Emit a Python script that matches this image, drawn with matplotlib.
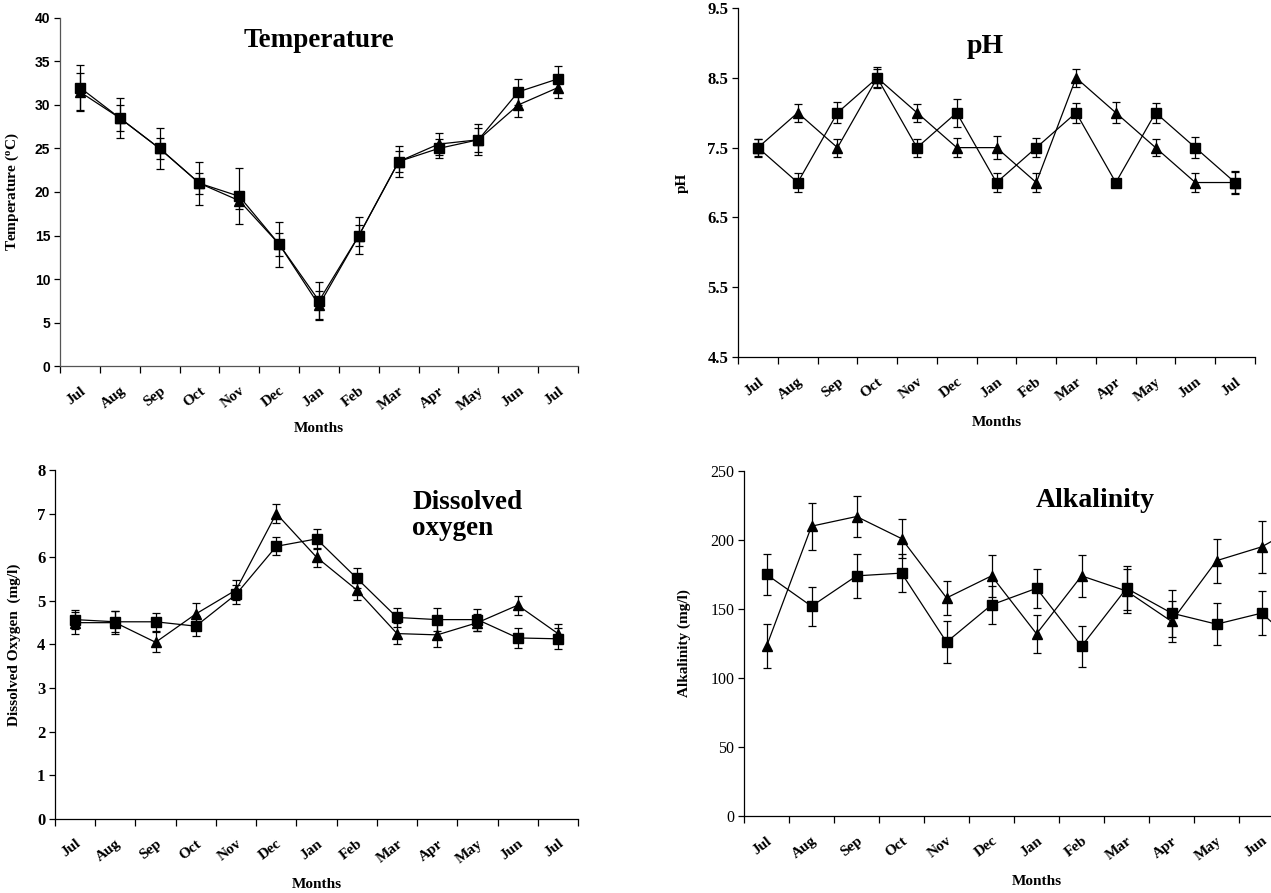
import matplotlib
matplotlib.use('Agg')
import matplotlib.pyplot as plt
import numpy as np

plt.rcParams['font.family'] = 'Liberation Serif'
plt.rcParams['mathtext.fontset'] = 'custom'
plt.rcParams['mathtext.rm'] = 'Liberation Serif:bold'
plt.rcParams['mathtext.it'] = 'Liberation Serif:bold'

months = ['Jul', 'Aug', 'Sep', 'Oct', 'Nov', 'Dec', 'Jan', 'Feb', 'Mar', 'Apr', 'May', 'Jun', 'Jul']

# Temperature
temp_sq = [32, 28.5, 25, 21, 19.5, 14, 7.5, 15, 23.5, 25, 26, 31.5, 33]
temp_sq_err = [2.6, 2.3, 2.4, 2.5, 3.2, 2.6, 2.2, 2.1, 1.8, 1.1, 1.8, 1.5, 1.5]
temp_tr = [31.5, 28.5, 25, 21, 19, 14, 7, 15, 23.5, 25.5, 26, 30, 32]
temp_tr_err = [2.2, 1.5, 1.2, 1.2, 1.0, 1.3, 1.6, 1.2, 1.2, 1.3, 1.4, 1.4, 1.2]

# pH
ph_sq = [7.5, 7.0, 8.0, 8.5, 7.5, 8.0, 7.0, 7.5, 8.0, 7.0, 8.0, 7.5, 7.0]
ph_sq_err = [0.13, 0.14, 0.15, 0.15, 0.13, 0.2, 0.13, 0.14, 0.14, 0.02, 0.14, 0.15, 0.15]
ph_tr = [7.5, 8.0, 7.5, 8.5, 8.0, 7.5, 7.5, 7.0, 8.5, 8.0, 7.5, 7.0, 7.0]
ph_tr_err = [0.12, 0.13, 0.13, 0.13, 0.13, 0.14, 0.17, 0.14, 0.13, 0.15, 0.12, 0.14, 0.17]

# Dissolved oxygen
do_sq = [4.57, 4.52, 4.52, 4.42, 5.15, 6.25, 6.42, 5.52, 4.62, 4.57, 4.57, 4.15, 4.13]
do_sq_err = [0.22, 0.24, 0.21, 0.23, 0.22, 0.21, 0.22, 0.23, 0.22, 0.27, 0.25, 0.23, 0.24]
do_tr = [4.5, 4.5, 4.05, 4.7, 5.25, 7.0, 6.0, 5.25, 4.25, 4.22, 4.5, 4.9, 4.25]
do_tr_err = [0.25, 0.27, 0.23, 0.25, 0.22, 0.22, 0.22, 0.23, 0.25, 0.28, 0.2, 0.22, 0.22]

# Alkalinity (last month runs past the right edge of the figure)
alk_sq = [175, 152, 174, 176, 126, 153, 165, 123, 165, 147, 139, 147, 118]
alk_sq_err = [15, 14, 16, 14, 15, 14, 14, 15, 16, 17, 15, 16, 15]
alk_tr = [123, 210, 217, 201, 158, 174, 132, 174, 163, 141, 185, 195, 213]
alk_tr_err = [16, 17, 15, 14, 12, 15, 14, 15, 16, 15, 16, 19, 17]

fig = plt.figure(figsize=(12.71, 8.93), dpi=100)


def draw(ax, sq, sq_err, tr, tr_err, ylim, yticks, ytick_font, ylabel, ylab_x,
         xlab_y, labels=months, spine='black'):
    x = np.arange(len(months))
    ax.errorbar(x, tr, yerr=tr_err, color='black', lw=0.9, marker='^', ms=7,
                elinewidth=0.9, capsize=2.6, capthick=0.9)
    ax.errorbar(x, sq, yerr=sq_err, color='black', lw=0.9, marker='s', ms=7,
                elinewidth=0.9, capsize=2.6, capthick=0.9)
    ax.set_xlim(-0.5, len(months) - 0.5)
    ax.set_ylim(*ylim)
    ax.set_yticks(yticks)
    ax.set_yticklabels([str(t) for t in yticks], **ytick_font)
    ax.set_xticks(np.arange(len(months) + 1) - 0.5)
    ax.set_xticklabels([])
    ax.set_xticks(x, minor=True)
    ax.set_xticklabels(labels, minor=True, rotation=38, ha='right',
                       rotation_mode='anchor', fontsize=11, fontweight='bold')
    ax.tick_params(axis='x', which='minor', length=0, pad=13)
    ax.tick_params(axis='x', which='major', length=5, width=0.9)
    ax.tick_params(axis='y', length=4, width=0.9, pad=3)
    for s in ['top', 'right']:
        ax.spines[s].set_visible(False)
    for s in ['left', 'bottom']:
        ax.spines[s].set_linewidth(0.9)
        ax.spines[s].set_color(spine)
    ax.set_xlabel('Months', fontsize=11, fontweight='bold')
    ax.xaxis.set_label_coords(0.5, xlab_y)
    ax.set_ylabel(ylabel, fontsize=11, fontweight='bold')
    ax.yaxis.set_label_coords(ylab_x, 0.5)


ax1 = fig.add_axes([0.0472, 0.590, 0.4076, 0.390])
draw(ax1, temp_sq, temp_sq_err, temp_tr, temp_tr_err, (0, 40), list(range(0, 41, 5)),
     dict(family='Liberation Sans', fontweight='bold', fontsize=10),
     r'Temperature ($^{\rm o}$C)', -0.075, -0.16, spine='#555555')
ax1.text(0.5, 0.935, 'Temperature', transform=ax1.transAxes, ha='center', va='center',
         fontsize=19.5, fontweight='bold')

ax2 = fig.add_axes([0.5807, 0.6002, 0.4067, 0.3908])
draw(ax2, ph_sq, ph_sq_err, ph_tr, ph_tr_err, (4.5, 9.5), [4.5, 5.5, 6.5, 7.5, 8.5, 9.5],
     dict(fontweight='bold', fontsize=12), 'pH', -0.095, -0.17)
ax2.text(0.478, 0.89, 'pH', transform=ax2.transAxes, ha='center', va='center',
         fontsize=20, fontweight='bold')

ax3 = fig.add_axes([0.0433, 0.0829, 0.4115, 0.3908])
draw(ax3, do_sq, do_sq_err, do_tr, do_tr_err, (0, 8), list(range(0, 9)),
     dict(fontweight='bold', fontsize=12), 'Dissolved Oxygen  (mg/l)', -0.065, -0.17)
ax3.text(0.683, 0.87, 'Dissolved\noxygen', transform=ax3.transAxes, ha='left', va='center',
         fontsize=19.5, fontweight='bold', linespacing=1.05)

ax4 = fig.add_axes([0.5854, 0.0862, 0.4603, 0.3864])
draw(ax4, alk_sq, alk_sq_err, alk_tr, alk_tr_err, (0, 250), list(range(0, 251, 50)),
     dict(fontsize=11.5), 'Alkalinity (mg/l)', -0.09, -0.17, labels=months[:-1] + [''])
ax4.text(0.6, 0.915, 'Alkalinity', transform=ax4.transAxes, ha='center', va='center',
         fontsize=20, fontweight='bold')

fig.savefig('out.png', dpi=100)
